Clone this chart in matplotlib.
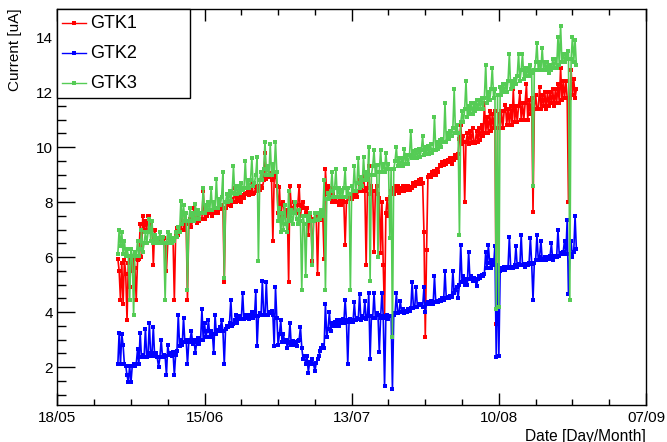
import matplotlib
matplotlib.use("Agg")
import numpy as np
import matplotlib.pyplot as plt
from matplotlib.ticker import MultipleLocator, FixedLocator, FixedFormatter
from matplotlib.lines import Line2D
from matplotlib.patches import Rectangle

plt.rcParams['font.family'] = ['Liberation Sans', 'DejaVu Sans']

# time axis: days since 18/05
tick_days = [0, 28, 56, 84, 112]
tick_labels = ["18/05", "15/06", "13/07", "10/08", "07/09"]

# readings are logged every 6 hours starting on day 11.5
T_START = 11.5
T_STEP = 0.25

# GTK1 leakage current (uA), one row per two days
i_gtk1 = [
    5.95, 5.5, 4.45, 5.8, 4.3, 5.9, 5.4, 3.7,
    5.8, 4.9, 5.9, 5.5, 5.95, 5.6, 4.45, 5.9,
    5.95, 7.2, 6.0, 7.5, 7.0, 7.3, 7.0, 7.5,
    7.5, 7.0, 7.3, 5.7, 7.0, 6.6, 6.5, 6.7,
    6.5, 6.6, 6.5, 6.7, 6.5, 5.5, 6.5, 6.7,
    6.6, 6.5, 6.7, 4.45, 6.8, 7.05, 6.8, 7.1,
    7.0, 7.6, 7.0, 7.1, 7.2, 4.45, 7.2, 7.4,
    7.1, 7.4, 7.8, 7.3, 7.25, 7.45, 7.3, 7.4,
    7.4, 8.4, 7.4, 7.6, 7.5, 7.7, 7.6, 7.7,
    7.5, 7.75, 7.6, 7.8, 7.6, 7.8, 7.75, 7.9,
    7.8, 5.1, 7.8, 8.0, 7.9, 8.05, 7.85, 8.1,
    8.0, 8.5, 8.0, 8.2, 8.05, 8.2, 8.0, 8.25,
    8.15, 8.35, 8.3, 8.45, 8.25, 8.4, 8.7, 8.3,
    8.35, 8.55, 8.4, 8.6, 8.45, 8.6, 8.5, 8.8,
    9.8, 8.85, 9.0, 8.9, 9.05, 8.8, 6.6, 8.9,
    9.0, 8.6, 7.6, 8.55, 7.4, 7.9, 8.0, 7.5,
    7.5, 7.7, 5.1, 8.6, 7.8, 7.6, 8.0, 7.6,
    7.6, 7.9, 8.6, 7.5, 7.9, 8.0, 7.8, 7.6,
    7.8, 6.8, 7.5, 7.4, 5.85, 7.4, 7.3, 7.5,
    5.4, 7.4, 7.5, 7.35, 7.5, 5.95, 9.2, 8.3,
    8.6, 8.1, 8.5, 8.0, 8.3, 8.0, 8.2, 8.0,
    7.9, 8.1, 7.9, 8.1, 8.0, 6.45, 8.0, 8.2,
    8.1, 8.3, 8.1, 8.3, 8.2, 8.35, 8.2, 8.4,
    8.8, 8.5, 8.4, 8.95, 8.4, 5.7, 8.5, 9.3,
    8.3, 8.6, 8.4, 6.2, 8.4, 8.6, 8.3, 8.15,
    6.15, 8.0, 5.7, 3.9, 7.6, 8.1, 7.5, 8.2,
    8.4, 8.5, 8.3, 8.6, 8.4, 8.6, 8.35, 8.5,
    8.4, 8.6, 8.4, 8.6, 8.45, 8.6, 8.45, 8.55,
    8.5, 8.7, 8.6, 8.75, 8.65, 8.8, 8.65, 8.85,
    8.7, 6.9, 3.1, 6.25, 8.9, 9.0, 8.9, 9.1,
    9.0, 9.15, 9.0, 9.2, 9.1, 9.35, 9.3, 9.45,
    9.35, 9.5, 9.4, 9.55, 9.45, 9.6, 9.4, 9.6,
    9.55, 9.7, 9.6, 9.75, 10.3, 10.8, 10.1, 10.4,
    8.0, 10.2, 10.5, 10.1, 10.6, 10.15, 10.7, 10.2,
    10.15, 10.6, 10.2, 10.7, 10.25, 10.8, 10.4, 11.6,
    10.5, 11.1, 10.5, 11.3, 10.6, 11.2, 10.7, 11.3,
    3.55, 10.7, 11.2, 10.7, 11.3, 10.7, 11.3, 11.55,
    10.8, 11.4, 10.8, 11.5, 10.8, 12.1, 10.9, 11.5,
    10.9, 11.5, 12.0, 11.0, 11.6, 11.0, 11.6, 12.3,
    11.0, 11.7, 11.2, 11.8, 7.65, 11.4, 11.9, 11.4,
    11.4, 12.2, 11.4, 11.9, 11.5, 12.0, 11.4, 12.0,
    11.5, 12.0, 11.6, 12.1, 11.5, 12.1, 11.6, 12.3,
    11.6, 12.9, 11.7, 12.4, 11.8, 12.4, 11.8, 8.0,
    11.8, 12.8, 11.9, 12.5, 11.8, 12.1,
]

# GTK2 leakage current (uA)
i_gtk2 = [
    2.1, 3.25, 2.1, 3.2, 2.8, 2.1, 2.05, 1.7,
    1.45, 2.05, 1.45, 2.05, 2.1, 2.05, 2.1, 2.65,
    2.1, 3.25, 2.35, 2.45, 2.35, 3.4, 2.35, 2.5,
    3.6, 2.4, 2.5, 3.45, 2.4, 2.5, 2.35, 2.0,
    2.35, 3.0, 2.35, 2.45, 2.4, 1.7, 2.8, 2.45,
    2.5, 2.4, 2.55, 1.7, 2.45, 2.6, 3.9, 2.75,
    3.0, 2.8, 3.8, 2.9, 3.0, 2.1, 2.9, 3.0,
    3.3, 2.85, 3.0, 2.5, 2.9, 3.05, 2.85, 3.0,
    4.1, 3.0, 3.6, 3.1, 3.3, 3.7, 3.1, 3.3,
    3.2, 2.5, 3.9, 3.2, 3.35, 3.3, 3.45, 3.7,
    3.3, 2.1, 3.4, 3.5, 3.45, 3.6, 4.45, 3.5,
    3.55, 3.7, 3.9, 3.6, 3.75, 3.85, 3.75, 4.7,
    3.75, 3.9, 3.8, 3.9, 3.75, 3.9, 4.0, 3.8,
    3.85, 4.75, 2.75, 3.85, 3.95, 3.9, 5.15, 3.9,
    3.9, 5.1, 3.9, 4.0, 3.95, 4.05, 3.9, 2.75,
    4.9, 3.8, 2.8, 3.2, 3.7, 2.9, 3.2, 2.9,
    3.0, 2.7, 2.9, 3.6, 2.8, 2.95, 2.8, 2.9,
    2.75, 2.95, 3.0, 3.45, 2.7, 2.3, 2.4, 2.1,
    2.4, 1.8, 2.2, 2.1, 2.3, 2.1, 1.85, 2.15,
    2.3, 2.4, 2.6, 2.7, 2.8, 2.7, 4.3, 3.1,
    3.4, 4.0, 3.3, 3.6, 3.5, 3.65, 3.5, 3.7,
    3.5, 3.7, 3.6, 3.75, 3.6, 4.45, 3.7, 2.1,
    3.65, 3.75, 3.7, 3.65, 4.35, 3.7, 3.8, 3.75,
    4.65, 3.7, 3.85, 3.8, 4.4, 3.75, 3.85, 4.7,
    2.3, 3.85, 3.8, 4.7, 3.8, 3.95, 3.9, 2.55,
    3.8, 4.7, 3.85, 1.3, 3.8, 3.9, 3.75, 3.85,
    3.85, 1.2, 3.9, 3.95, 4.7, 3.95, 4.0, 4.4,
    4.0, 4.1, 3.95, 4.05, 4.0, 4.1, 4.05, 4.15,
    5.1, 4.15, 4.2, 4.9, 4.2, 4.3, 4.25, 4.3,
    4.2, 4.9, 4.0, 4.3, 4.35, 4.3, 4.4, 4.35,
    4.3, 5.3, 4.35, 4.4, 4.35, 4.45, 4.4, 4.5,
    4.45, 5.5, 4.5, 4.55, 4.5, 4.6, 4.55, 5.5,
    4.7, 4.8, 4.9, 4.5, 5.0, 6.45, 5.1, 5.3,
    5.0, 5.2, 5.0, 6.2, 5.2, 5.3, 5.15, 5.25,
    5.15, 4.95, 5.2, 5.3, 5.25, 5.35, 5.3, 5.4,
    6.2, 5.6, 6.45, 5.8, 5.6, 5.9, 5.7, 6.4,
    2.35, 5.7, 2.4, 5.5, 5.6, 5.55, 5.65, 5.55,
    5.6, 5.65, 6.75, 5.6, 5.65, 5.6, 5.7, 6.4,
    5.65, 5.75, 5.7, 6.8, 5.7, 5.75, 5.65, 5.75,
    5.7, 5.8, 6.7, 5.75, 4.45, 5.8, 5.9, 6.8,
    5.9, 6.0, 6.6, 5.9, 5.95, 6.0, 5.9, 6.0,
    5.95, 6.05, 6.5, 5.9, 6.0, 6.05, 6.0, 7.0,
    6.05, 6.15, 6.1, 6.2, 6.6, 6.1, 7.35, 4.65,
    6.1, 6.6, 6.0, 6.2, 7.5, 6.3,
]

# GTK3 leakage current (uA)
i_gtk3 = [
    6.1, 7.0, 6.4, 6.9, 6.1, 6.6, 6.05, 6.3,
    6.05, 4.45, 6.3, 6.05, 3.9, 6.2, 6.05, 6.6,
    6.05, 6.3, 7.0, 6.2, 6.5, 6.9, 6.5, 6.9,
    7.4, 6.6, 7.3, 6.5, 6.8, 6.5, 6.7, 6.5,
    6.9, 6.5, 6.75, 6.5, 4.45, 6.5, 6.9, 6.5,
    6.8, 6.5, 6.7, 6.6, 6.9, 6.75, 7.1, 6.9,
    8.05, 7.2, 7.9, 7.3, 7.6, 4.8, 7.3, 7.8,
    7.3, 7.6, 7.3, 7.95, 7.4, 7.7, 7.4, 7.6,
    7.6, 8.5, 7.6, 7.9, 7.7, 8.0, 7.7, 8.5,
    7.7, 8.0, 7.8, 8.85, 7.8, 8.1, 7.9, 8.2,
    9.1, 5.25, 8.0, 8.3, 8.0, 8.4, 8.05, 8.35,
    9.3, 8.3, 8.6, 8.3, 8.6, 8.35, 8.7, 8.45,
    8.5, 9.5, 8.5, 8.8, 8.5, 8.8, 9.6, 8.6,
    8.7, 9.0, 9.65, 5.85, 8.8, 9.1, 8.8, 9.2,
    10.2, 9.0, 9.3, 9.0, 10.1, 9.0, 9.4, 9.1,
    10.2, 9.1, 7.3, 7.8, 6.9, 7.6, 7.0, 7.9,
    7.2, 6.9, 8.4, 7.3, 7.7, 7.2, 7.6, 8.0,
    7.4, 7.2, 7.7, 7.3, 4.8, 7.5, 7.2, 5.3,
    7.5, 7.3, 7.6, 7.3, 5.7, 7.3, 7.6, 7.35,
    7.35, 7.6, 7.4, 7.7, 7.5, 8.8, 4.8, 8.1,
    8.35, 8.1, 8.4, 9.1, 8.2, 8.5, 9.2, 8.2,
    8.5, 8.2, 8.45, 8.2, 8.5, 9.2, 8.2, 8.5,
    8.3, 4.8, 8.6, 8.4, 9.3, 8.4, 8.7, 9.6,
    8.5, 8.9, 8.6, 9.65, 8.8, 9.1, 8.8, 10.0,
    5.15, 9.0, 9.3, 9.9, 9.0, 9.35, 6.0, 9.1,
    9.9, 9.1, 9.4, 9.1, 9.8, 9.2, 9.4, 6.7,
    9.2, 3.1, 9.2, 9.5, 10.0, 9.3, 9.6, 9.3,
    9.6, 9.3, 9.95, 9.4, 9.7, 9.4, 9.7, 10.6,
    9.6, 9.85, 9.6, 9.9, 9.6, 9.95, 9.65, 9.9,
    10.4, 9.7, 10.0, 9.75, 10.05, 9.75, 10.1, 9.8,
    9.9, 11.1, 9.9, 10.2, 9.95, 10.25, 10.0, 10.3,
    10.2, 11.6, 10.2, 10.5, 10.3, 10.6, 10.4, 10.7,
    12.1, 10.5, 10.8, 10.5, 6.8, 10.9, 11.3, 10.9,
    11.4, 12.4, 11.1, 11.5, 11.2, 11.6, 11.2, 11.6,
    11.3, 11.7, 11.4, 11.7, 11.4, 11.8, 11.4, 11.8,
    13.0, 11.6, 12.0, 11.7, 12.1, 12.9, 11.8, 12.1,
    4.1, 11.9, 4.2, 12.2, 11.9, 12.3, 12.0, 12.3,
    12.0, 12.4, 13.4, 12.1, 12.4, 12.2, 12.5, 12.3,
    12.6, 13.4, 12.4, 12.8, 13.4, 12.5, 12.9, 12.6,
    12.9, 12.6, 13.0, 12.7, 8.6, 12.8, 13.1, 13.8,
    12.8, 13.1, 12.8, 13.6, 12.8, 13.1, 12.8, 13.1,
    12.7, 13.0, 12.8, 13.2, 12.9, 13.2, 12.9, 14.0,
    13.0, 14.4, 13.1, 13.4, 13.1, 13.4, 13.2, 13.5,
    4.45, 13.2, 14.0, 13.1, 13.9, 13.0,
]

series_names = ["GTK1", "GTK2", "GTK3"]
series_values = [i_gtk1, i_gtk2, i_gtk3]
series_colors = ["#ff0000", "#0000ff", "#55cc55"]

W, H = 667, 442
fig = plt.figure(figsize=(W / 100, H / 100), dpi=100)
ax_l, ax_r, ax_t, ax_b = 57.4, 646.0, 8.7, 405.0
ax = fig.add_axes([ax_l / W, 1 - ax_b / H, (ax_r - ax_l) / W, (ax_b - ax_t) / H])

for name, v, c in zip(series_names, series_values, series_colors):
    t = T_START + T_STEP * np.arange(len(v))
    ax.plot(t, v, color=c, lw=1.2, marker='s', ms=2.6, mew=0, label=name)

ax.set_xlim(0, 112)
ax.set_ylim(0.62, 15.04)

ax.xaxis.set_major_locator(FixedLocator(tick_days))
ax.xaxis.set_major_formatter(FixedFormatter(tick_labels))
ax.xaxis.set_minor_locator(MultipleLocator(7))
ax.yaxis.set_major_locator(MultipleLocator(2))
ax.yaxis.set_minor_locator(MultipleLocator(0.5))

ax.tick_params(axis='x', which='both', direction='in', top=True, bottom=True,
               labelsize=11, pad=4, width=1)
ax.tick_params(axis='x', which='major', length=8.6)
ax.tick_params(axis='x', which='minor', length=4.3)
ax.tick_params(axis='y', which='both', direction='in', left=True, right=False,
               labelsize=11, pad=3, width=1)
ax.tick_params(axis='y', which='major', length=12.7)
ax.tick_params(axis='y', which='minor', length=6.4)
for s in ax.spines.values():
    s.set_linewidth(1.0)

def fx(x):
    return x / W

def fy(y):
    return 1 - y / H

fig.text(fx(646), fy(436), "Date [Day/Month]", ha='right', va='center', fontsize=11.2)
fig.text(fx(15), fy(8.7), "Current [uA]", ha='center', va='top', rotation=90, fontsize=11)

# legend box in the upper-left corner of the frame
fig.patches.append(Rectangle((fx(57.4), fy(98)), fx(190) - fx(57.4), fy(8.7) - fy(98),
                             transform=fig.transFigure, facecolor='white',
                             edgecolor='black', lw=1.0, zorder=5))
rows = [23, 53, 83]
for name, c, yr in zip(series_names, series_colors, rows):
    fig.lines.append(Line2D([fx(62), fx(86)], [fy(yr), fy(yr)], transform=fig.transFigure,
                            color=c, lw=1.0, zorder=6))
    fig.lines.append(Line2D([fx(74)], [fy(yr)], transform=fig.transFigure, color=c,
                            marker='s', ms=2.6, mew=0, zorder=6))
    fig.text(fx(90), fy(yr), name, ha='left', va='center', fontsize=13, zorder=7)

fig.savefig("out.png", dpi=100)
